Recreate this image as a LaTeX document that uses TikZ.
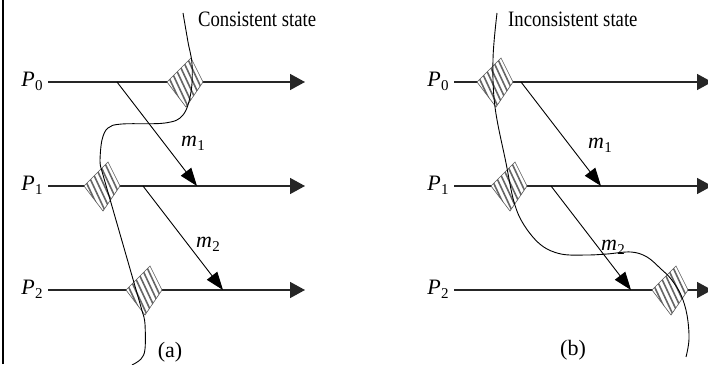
\documentclass[tikz,border=0pt]{standalone}
\usepackage{fontspec}
\setmainfont{Liberation Serif}
\usetikzlibrary{arrows.meta}
\newcommand\plab[2]{\textit{#1}\kern0.5pt\raisebox{-4pt}{\fontsize{15}{15}\selectfont #2}}
\begin{document}
\begin{tikzpicture}[x=1pt,y=1pt,
  proc/.style={line width=1.5pt, draw=black!85, -{Triangle[length=15pt,width=16pt]}},
  msg/.style={line width=0.9pt, -{Triangle[length=18pt,width=13pt]}},
  cut/.style={line width=0.9pt},
  lbl/.style={font=\fontsize{22}{25}\selectfont, inner sep=0pt},
  ckpt/.pic={
    \path[fill=white] (-18,0) -- (6,24) -- (18,0) -- (1,-25) -- cycle;
    \begin{scope}
      \clip (-18,0) -- (6,24) -- (18,0) -- (1,-25) -- cycle;
      \foreach \i in {-36,-30.5,...,36}
        \draw[line width=1.6pt, black!60] (\i-14.8,31.7) -- (\i+14.8,-31.7);
    \end{scope}
    \draw[line width=0.6pt, black!65] (-18,0) -- (6,24) -- (18,0) -- (1,-25) -- cycle;
  }]
\useasboundingbox (0,0) rectangle (708,364);
\draw[line width=2.5pt] (3,0) -- (3,364);

% ---------- (a) ----------
\coordinate (a0s) at (48,282); \coordinate (a0e) at (305,282);
\coordinate (a1s) at (48,178); \coordinate (a1e) at (305,178);
\coordinate (a2s) at (48,74);  \coordinate (a2e) at (305,74);
\draw[proc] (a0s) -- (a0e);
\draw[proc] (a1s) -- (a1e);
\draw[proc] (a2s) -- (a2e);
\node[lbl] (pa0) at (32,283) {\plab{P}{0}};
\node[lbl] (pa1) at (32,179) {\plab{P}{1}};
\node[lbl] (pa2) at (32,75) {\plab{P}{2}};
\coordinate (ca0) at (185,282);
\coordinate (ca1) at (102,178);
\coordinate (ca2) at (144,74);
\pic at (ca0) {ckpt};
\pic at (ca1) {ckpt};
\pic at (ca2) {ckpt};
\draw[cut] plot[smooth, tension=0.6] coordinates {(183,351) (188,322) (192,300) (191,272) (183,249) (165,241) (122,240) (108,236) (102,224) (100,204) (101,196)}
  -- (143,50) plot[smooth, tension=0.6] coordinates {(143,50) (145,40) (145,15) (141,5) (132,-1)};
\coordinate (am1s) at (117,282); \coordinate (am1e) at (197,178);
\coordinate (am2s) at (143,178); \coordinate (am2e) at (223,74);
\draw[msg] (am1s) -- (am1e);
\draw[msg] (am2s) -- (am2e);
\node[lbl] (ma1) at (193,221) {\plab{m}{1}};
\node[lbl] (ma2) at (208,120) {\plab{m}{2}};
\node[lbl, anchor=base west, xscale=0.85] (sa) at (198,337) {Consistent state};
\node[lbl] (capa) at (170,12) {(a)};

% ---------- (b) ----------
\coordinate (b0s) at (454,282); \coordinate (b0e) at (712,282);
\coordinate (b1s) at (454,178); \coordinate (b1e) at (712,178);
\coordinate (b2s) at (454,74);  \coordinate (b2e) at (712,74);
\draw[proc] (b0s) -- (b0e);
\draw[proc] (b1s) -- (b1e);
\draw[proc] (b2s) -- (b2e);
\node[lbl] (pb0) at (438,283) {\plab{P}{0}};
\node[lbl] (pb1) at (438,179) {\plab{P}{1}};
\node[lbl] (pb2) at (438,75) {\plab{P}{2}};
\coordinate (cb0) at (495,282);
\coordinate (cb1) at (509,178);
\coordinate (cb2) at (670,74);
\pic at (cb0) {ckpt};
\pic at (cb1) {ckpt};
\pic at (cb2) {ckpt};
\draw[cut] plot[smooth, tension=0.6] coordinates {(497,351) (493,305) (495,257) (506,201) (514,162) (524,139) (541,119) (561,110) (587,109) (607,110) (631,112) (647,107) (661,95) (671,85) (681,69) (687,49) (689,25) (686,7)};
\coordinate (bm1s) at (521,282); \coordinate (bm1e) at (601,178);
\coordinate (bm2s) at (551,178); \coordinate (bm2e) at (631,74);
\draw[msg] (bm1s) -- (bm1e);
\draw[msg] (bm2s) -- (bm2e);
\node[lbl] (mb1) at (600,219) {\plab{m}{1}};
\node[lbl] (mb2) at (613,117) {\plab{m}{2}};
\node[lbl, anchor=base west, xscale=0.85] (sb) at (508,337) {Inconsistent state};
\node[lbl] (capb) at (573,14) {(b)};
\end{tikzpicture}
\end{document}
